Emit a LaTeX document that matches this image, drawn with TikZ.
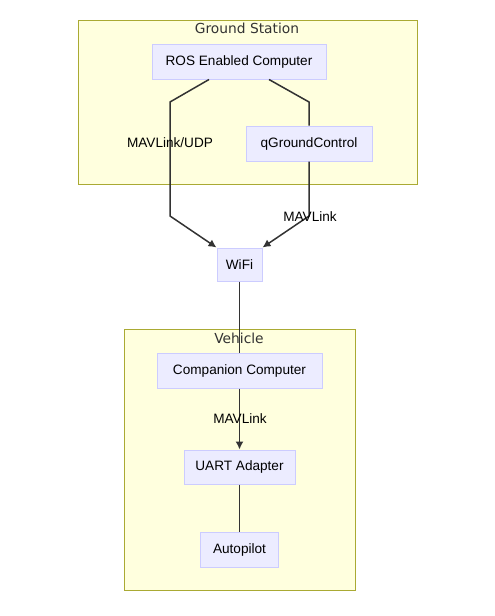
\documentclass[tikz,border=0pt]{standalone}
\usepackage{fontspec}
\setmainfont{Liberation Sans}
\newfontfamily\clustfont{DejaVu Sans}
\usetikzlibrary{arrows.meta}
\definecolor{nodefill}{HTML}{ECECFF}
\definecolor{nodeline}{HTML}{CCCCFF}
\definecolor{clustfill}{HTML}{FFFFDE}
\definecolor{clustline}{HTML}{AAAA33}
\definecolor{edgecol}{HTML}{333333}
\begin{document}
\begin{tikzpicture}[x=1pt,y=-1pt]

\tikzstyle{bloco}=[draw=nodeline,fill=nodefill,line width=1pt,inner sep=0,font=\fontsize{13.6}{16}\selectfont]
\tikzstyle{grupo}=[draw=clustline,fill=clustfill,line width=1pt]
\tikzstyle{titulo}=[text=edgecol,font=\clustfont\fontsize{13.8}{16}\selectfont]
\tikzstyle{rotulo}=[font=\fontsize{13.6}{16}\selectfont]
\tikzstyle{liga}=[draw=edgecol,line width=1.5pt,>={Latex[length=8pt,width=8pt]}]

\useasboundingbox (0,0) rectangle (495,616);

\draw[grupo] (78,20) rectangle (417,184);
\draw[grupo] (124,329) rectangle (355,590);
\node[titulo] (gstitle) at (247,28) {Ground Station};
\node[titulo] (vehtitle) at (239,338) {Vehicle};

\node[bloco,minimum width=174,minimum height=35] (ros) at (239,61.5) {ROS Enabled Computer};
\node[bloco,minimum width=126,minimum height=35] (qgc) at (309,143.5) {qGroundControl};
\node[bloco,minimum width=45,minimum height=33] (wifi) at (239.5,264.5) {WiFi};
\node[bloco,minimum width=165,minimum height=35] (comp) at (239.5,370.5) {Companion Computer};
\node[bloco,minimum width=111,minimum height=34] (uart) at (239.5,467) {UART Adapter};
\node[bloco,minimum width=78,minimum height=35] (auto) at (239.5,549.5) {Autopilot};

\draw[liga,->] ([xshift=-30]ros.south) -- (170,102) -- (170,216) -- (wifi.north west);
\draw[liga] ([xshift=30]ros.south) -- (309,102) -- (qgc.north);
\draw[liga,->] (qgc.south) -- (309,216) -- (wifi.north east);
\draw[liga] (wifi.south) -- (comp.north);
\draw[liga,->] (comp.south) -- (uart.north);
\draw[liga] (uart.south) -- (auto.north);

\node[rotulo] (udp) at (170,143) {MAVLink/UDP};
\node[rotulo] (mav1) at (310,217) {MAVLink};
\node[rotulo] (mav2) at (240,419) {MAVLink};

\end{tikzpicture}
\end{document}
